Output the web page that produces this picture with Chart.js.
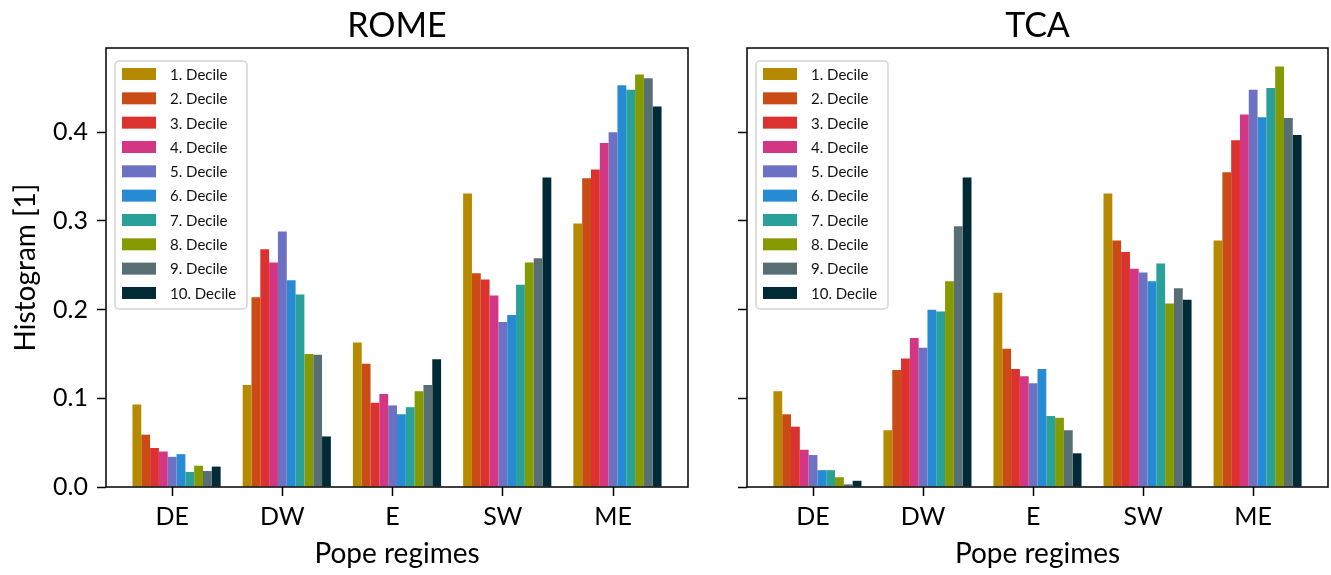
<!DOCTYPE html>
<html>
<head>
<meta charset="utf-8">
<script src="https://cdn.jsdelivr.net/npm/chart.js@4.4.1/dist/chart.umd.min.js"></script>
<style>
  body { margin: 0; background: #fff; }
  .panel { position: absolute; top: 0; height: 575px; }
  #romeWrap { left: 0; width: 700px; }
  #tcaWrap { left: 700px; width: 631px; }
</style>
</head>
<body>
<div class="panel" id="romeWrap"><canvas id="rome" width="700" height="575"></canvas></div>
<div class="panel" id="tcaWrap"><canvas id="tca" width="631" height="575"></canvas></div>
<script>
const regimes = ["DE", "DW", "E", "SW", "ME"];
const deciles = ["1. Decile", "2. Decile", "3. Decile", "4. Decile", "5. Decile",
  "6. Decile", "7. Decile", "8. Decile", "9. Decile", "10. Decile"];
const colors = ["#b58900", "#cb4b16", "#dc322f", "#d33682", "#6c71c4",
  "#268bd2", "#2aa198", "#859900", "#586e75", "#002b36"];
const yTicks = [0, 0.1, 0.2, 0.3, 0.4];

// ROME, one array per regime, values for decile 1..10
const romeDE = [0.093, 0.059, 0.044, 0.040, 0.034, 0.037, 0.017, 0.024, 0.018, 0.023];
const romeDW = [0.115, 0.214, 0.268, 0.253, 0.288, 0.233, 0.217, 0.150, 0.149, 0.057];
const romeE = [0.163, 0.139, 0.095, 0.105, 0.092, 0.082, 0.090, 0.108, 0.115, 0.144];
const romeSW = [0.331, 0.241, 0.234, 0.216, 0.186, 0.194, 0.228, 0.253, 0.258, 0.349];
const romeME = [0.297, 0.348, 0.358, 0.388, 0.400, 0.453, 0.448, 0.465, 0.461, 0.429];

// TCA
const tcaDE = [0.108, 0.082, 0.068, 0.042, 0.036, 0.019, 0.019, 0.011, 0.003, 0.007];
const tcaDW = [0.064, 0.132, 0.145, 0.168, 0.157, 0.200, 0.198, 0.232, 0.294, 0.349];
const tcaE = [0.219, 0.156, 0.133, 0.125, 0.117, 0.133, 0.080, 0.078, 0.064, 0.038];
const tcaSW = [0.331, 0.278, 0.265, 0.246, 0.242, 0.232, 0.252, 0.207, 0.224, 0.211];
const tcaME = [0.278, 0.355, 0.391, 0.420, 0.448, 0.417, 0.450, 0.474, 0.416, 0.397];

Chart.defaults.font.family = "Lato, 'Noto Sans', sans-serif";
Chart.defaults.color = "#000";

//bars sit a bit right of the tick, like matplotlib's x + i*w
const groupShift = 0.04;

//frame, title and the legend inside the axes
const panelDeco = {
  id: "panelDeco",
  afterDatasetsDraw(chart, args, opts) {
    const { ctx, chartArea: a } = chart;
    ctx.save();
    ctx.strokeStyle = "#000";
    ctx.lineWidth = 1.5;
    ctx.strokeRect(a.left, a.top, a.right - a.left, a.bottom - a.top);

    //legend box
    const bx = a.left + 9, by = a.top + 13, bw = 132, bh = 248;
    ctx.beginPath();
    ctx.roundRect(bx, by, bw, bh, 4);
    ctx.fillStyle = "rgba(255,255,255,0.8)";
    ctx.fill();
    ctx.strokeStyle = "#d4d4d4";
    ctx.lineWidth = 1.5;
    ctx.stroke();

    ctx.font = "15px Lato";
    ctx.textBaseline = "middle";
    ctx.textAlign = "left";
    chart.data.datasets.forEach((ds, i) => {
      const cy = a.top + 26 + i * 24.33;
      ctx.fillStyle = ds.backgroundColor;
      ctx.fillRect(a.left + 16, cy - 6, 34, 12);
      ctx.fillStyle = "#111";
      ctx.fillText(ds.label, a.left + 64, cy + 1);
    });

    //title
    ctx.font = "34px Lato";
    ctx.textAlign = "center";
    ctx.fillStyle = "#000";
    ctx.fillText(opts.title, (a.left + a.right) / 2, 26);
    ctx.restore();
  },
};

function makePanel(id, title, rows, showY, yWidth, padRight) {
  const datasets = deciles.map((label, i) => ({
    label: label,
    data: regimes.map((r, j) => ({ x: j + groupShift, y: rows[j][i] })),
    backgroundColor: colors[i],
    borderWidth: 0,
    categoryPercentage: 0.8,
    barPercentage: 1.0,
  }));

  return new Chart(document.getElementById(id), {
    type: "bar",
    data: { datasets },
    plugins: [panelDeco],
    options: {
      responsive: false,
      animation: false,
      layout: { padding: { top: 48, right: padRight, bottom: 0, left: 0 } },
      plugins: {
        legend: { display: false },
        tooltip: { enabled: false },
        panelDeco: { title: title },
      },
      scales: {
        x: {
          type: "linear",
          min: -0.6,
          max: 4.68,
          offset: false,
          afterBuildTicks: (s) => { s.ticks = regimes.map((r, j) => ({ value: j })); },
          afterFit: (s) => { s.height = 88; },
          ticks: {
            callback: (v) => regimes[v],
            font: { size: 25 },
            color: "#000",
            padding: 6,
            maxRotation: 0,
            autoSkip: false,
          },
          grid: { offset: false, drawOnChartArea: false, tickLength: 9, tickWidth: 1.5, color: "#000", tickColor: "#000" },
          border: { display: false },
          title: { display: true, text: "Pope regimes", font: { size: 28 }, color: "#000", padding: { bottom: 4 } },
        },
        y: {
          min: 0,
          max: 0.495,
          afterBuildTicks: (s) => { s.ticks = yTicks.map((v) => ({ value: v })); },
          afterFit: (s) => { s.width = yWidth; },
          ticks: {
            callback: (v) => (showY ? v.toFixed(1) : ""),
            font: { size: 25 },
            color: "#000",
            padding: 9,
          },
          grid: { offset: false, drawOnChartArea: false, tickLength: 9, tickWidth: 1.5, color: "#000", tickColor: "#000" },
          border: { display: false },
          title: { display: showY, text: "Histogram [1]", font: { size: 28 }, color: "#000", padding: { top: 9 } },
        },
      },
    },
  });
}

makePanel("rome", "ROME", [romeDE, romeDW, romeE, romeSW, romeME], true, 106, 12);
makePanel("tca", "TCA", [tcaDE, tcaDW, tcaE, tcaSW, tcaME], false, 47, 3);
</script>
</body>
</html>
